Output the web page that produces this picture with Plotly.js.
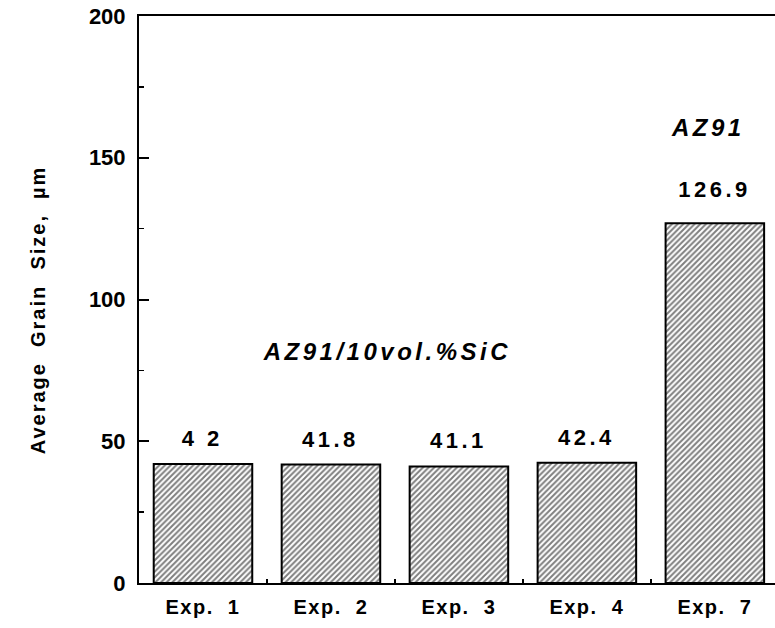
<!DOCTYPE html>
<html>
<head>
<meta charset="utf-8">
<script src="https://cdn.plot.ly/plotly-3.0.1.min.js"></script>
<style>
html,body{margin:0;padding:0;background:#fff;}
#chart{width:775px;height:628px;}
#chart .xtick text{letter-spacing:1.5px;}
#chart .annotation-text{letter-spacing:3.5px;}
#chart .annotation:last-of-type .annotation-text{letter-spacing:2px;}
</style>
</head>
<body>
<div id="chart"></div>
<script>
const categories = ["Exp.\u00a0\u00a01", "Exp.\u00a0\u00a02", "Exp.\u00a0\u00a03", "Exp.\u00a0\u00a04", "Exp.\u00a0\u00a07"];
const grainSize = [42, 41.8, 41.1, 42.4, 126.9];
const valueLabels = ["4\u00a02", "41.8", "41.1", "42.4", "126.9"];
const yTicks = [0, 50, 100, 150, 200];
const yTitle = "Average\u00a0\u00a0Grain\u00a0\u00a0Size,\u00a0\u00a0µm";

const font = "Liberation Sans, Arial, sans-serif";

const trace = {
  type: "bar",
  x: categories,
  y: grainSize,
  width: 0.77,
  marker: {
    color: "#ffffff",
    line: {color: "#000", width: 2},
    pattern: {shape: "/", fgcolor: "#000", bgcolor: "#fff", size: 4, solidity: 0.5, fillmode: "overlay"}
  },
  hoverinfo: "none"
};

const annotations = categories.map((c, i) => ({
  x: c, y: grainSize[i], xref: "x", yref: "y",
  text: "<b>" + valueLabels[i] + "</b>",
  showarrow: false, yanchor: "bottom", yshift: i === 4 ? 19 : 11,
  font: {family: font, size: 22, color: "#000"}
}));
annotations.push({
  x: 1.44, y: 81.5, xref: "x", yref: "y",
  text: "<b><i>AZ91/10vol.%SiC</i></b>", showarrow: false,
  font: {family: font, size: 24, color: "#000"}
});
annotations.push({
  x: 3.95, y: 160.5, xref: "x", yref: "y",
  text: "<b><i>AZ91</i></b>", showarrow: false,
  font: {family: font, size: 24, color: "#000"}
});
annotations.push({
  x: 0, xref: "paper", xshift: -114, y: 0.481, yref: "paper",
  text: "<b>" + yTitle + "</b>", textangle: -90, showarrow: false,
  font: {family: font, size: 20, color: "#000"}
});

const layout = {
  width: 775, height: 628,
  margin: {l: 139, r: 0, t: 16, b: 45},
  paper_bgcolor: "#fff", plot_bgcolor: "#fff",
  showlegend: false,
  xaxis: {
    type: "category", range: [-0.5, 4.47],
    showline: true, linecolor: "#000", linewidth: 2, mirror: true,
    ticks: "inside", tickson: "boundaries", ticklen: 4, tickcolor: "#000", tickwidth: 2,
    showgrid: false, zeroline: false, ticklabelstandoff: 5,
    tickfont: {family: font, size: 20, color: "#000", weight: "bold"}
  },
  yaxis: {
    range: [0, 200], tickvals: yTicks, ticktext: yTicks.map(String),
    showline: true, linecolor: "#000", linewidth: 2, mirror: false,
    ticks: "inside", ticklen: 10, tickwidth: 2, tickcolor: "#000",
    minor: {dtick: 25, ticks: "inside", ticklen: 5, tickcolor: "#000", tickwidth: 1.5, showgrid: false},
    showgrid: false, zeroline: false, ticklabelstandoff: 7,
    tickfont: {family: font, size: 22, color: "#000", weight: "bold"}
  },
  annotations: annotations
};

Plotly.newPlot("chart", [trace], layout, {staticPlot: true, displayModeBar: false});
</script>
</body>
</html>
